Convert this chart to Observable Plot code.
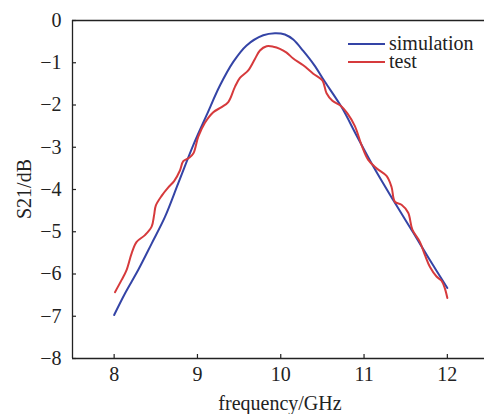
<!DOCTYPE html>
<html>
<head>
<meta charset="utf-8">
<script src="https://cdn.jsdelivr.net/npm/d3@7"></script>
<script src="https://cdn.jsdelivr.net/npm/@observablehq/plot@0.6"></script>
<style>
  html, body { margin: 0; padding: 0; background: #fff; }
  #chart { width: 484px; height: 414px; overflow: hidden; }
  #chart svg, #chart svg text { font-family: "Liberation Serif", "Times New Roman", serif !important; }
</style>
</head>
<body>
<div id="chart"></div>
<script>
const simFreq = [8.0, 8.13, 8.29, 8.45, 8.61, 8.77, 8.95, 9.11, 9.27, 9.43, 9.59, 9.79, 9.93, 10.05, 10.15, 10.27, 10.4, 10.53, 10.73, 10.91, 11.11, 11.35, 11.59, 11.79, 12.0];
const simS21 = [-6.97, -6.46, -5.9, -5.28, -4.65, -3.85, -2.95, -2.24, -1.54, -0.98, -0.59, -0.35, -0.3, -0.33, -0.45, -0.72, -1.05, -1.45, -2.05, -2.72, -3.45, -4.25, -5.02, -5.67, -6.33];

const testFreq = [8.01, 8.09, 8.15, 8.21, 8.27, 8.37, 8.45, 8.48, 8.5, 8.57, 8.65, 8.72, 8.79, 8.83, 8.9, 8.95, 9.01, 9.09, 9.19, 9.29, 9.37, 9.45, 9.51, 9.61, 9.69, 9.75, 9.83, 9.91, 9.99, 10.07, 10.15, 10.27, 10.39, 10.5, 10.55, 10.62, 10.72, 10.8, 10.89, 10.97, 11.05, 11.15, 11.27, 11.33, 11.37, 11.45, 11.53, 11.58, 11.67, 11.73, 11.79, 11.87, 11.93, 11.97, 12.0];
const testS21 = [-6.43, -6.14, -5.9, -5.51, -5.24, -5.08, -4.88, -4.6, -4.38, -4.15, -3.95, -3.8, -3.55, -3.33, -3.25, -3.15, -2.75, -2.42, -2.17, -2.05, -1.93, -1.57, -1.36, -1.18, -0.91, -0.71, -0.61, -0.62, -0.67, -0.76, -0.9, -1.06, -1.26, -1.42, -1.72, -1.9, -2.02, -2.2, -2.5, -2.95, -3.3, -3.5, -3.68, -3.94, -4.29, -4.36, -4.55, -4.95, -5.24, -5.55, -5.83, -6.06, -6.16, -6.34, -6.57];

const xTicks = [8, 9, 10, 11, 12];
const yTicks = [0, -1, -2, -3, -4, -5, -6, -7, -8];
const seriesNames = ["simulation", "test"];
const seriesColors = ["#3444a6", "#d63a3c"];

const sim = simFreq.map((f, i) => ({f, v: simS21[i]}));
const test = testFreq.map((f, i) => ({f, v: testS21[i]}));

const font = "Liberation Serif, Times New Roman, serif";
const axisColor = "#222";

const plot = Plot.plot({
  width: 484,
  height: 414,
  marginLeft: 72,
  marginTop: 20,
  marginBottom: 56,
  marginRight: 0,
  style: {fontSize: "20px", color: axisColor, background: "#fff"},
  x: {domain: [7.5, 12.446]},
  y: {domain: [-8, 0]},
  marks: [
    Plot.axisX(xTicks, {tickSize: 0, tickPadding: 8, fontSize: 20, label: null}),
    Plot.axisY(yTicks, {tickSize: 0, tickPadding: 11, fontSize: 20, label: null}),
    Plot.ruleX(xTicks, {y1: -8, y2: -8 + 4 / 42.3, stroke: axisColor, strokeWidth: 1.2}),
    Plot.ruleY(yTicks, {x1: 7.5, x2: 7.5 + 4 / 83.3, stroke: axisColor, strokeWidth: 1.2}),
    Plot.ruleY([0, -8], {stroke: axisColor, strokeWidth: 1.3}),
    Plot.ruleX([7.5], {stroke: axisColor, strokeWidth: 1.3}),
    Plot.line(sim, {x: "f", y: "v", stroke: seriesColors[0], strokeWidth: 2, curve: "catmull-rom"}),
    Plot.line(test, {x: "f", y: "v", stroke: seriesColors[1], strokeWidth: 2, curve: "catmull-rom"})
  ]
});

const svg = d3.select(plot);
// axis titles
svg.append("text")
  .attr("x", 280).attr("y", 410)
  .attr("text-anchor", "middle")
  .attr("font-family", font).attr("font-size", 20).attr("fill", axisColor)
  .text("frequency/GHz");
svg.append("text")
  .attr("transform", "translate(31,189) rotate(-90)")
  .attr("text-anchor", "middle")
  .attr("font-family", font).attr("font-size", 20).attr("fill", axisColor)
  .text("S21/dB");
// legend
seriesNames.forEach((name, i) => {
  const y = 44 + i * 18;
  svg.append("line")
    .attr("x1", 348).attr("x2", 385).attr("y1", y).attr("y2", y)
    .attr("stroke", seriesColors[i]).attr("stroke-width", 2.2);
  svg.append("text")
    .attr("x", 389).attr("y", y + 6)
    .attr("text-anchor", "start")
    .attr("font-family", font).attr("font-size", 20).attr("fill", axisColor)
    .text(name);
});

document.getElementById("chart").appendChild(plot);
</script>
</body>
</html>
